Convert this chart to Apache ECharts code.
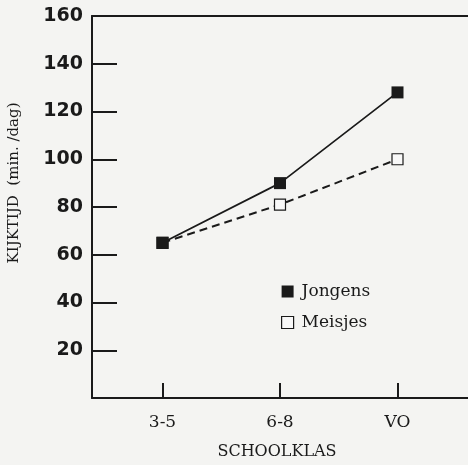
<!DOCTYPE html>
<html>
<head>
<meta charset="utf-8">
<script src="https://cdn.jsdelivr.net/npm/echarts@6/dist/echarts.min.js"></script>
<style>
html,body{margin:0;padding:0;background:#f4f4f2;}
#c{width:468px;height:465px;}
</style>
</head>
<body>
<div id="c"></div>
<script>
const categories = ['3-5', '6-8', 'VO'];
const jongens = [65, 90, 128];
const meisjes = [65, 81, 100];
const yTicks = [20, 40, 60, 80, 100, 120, 140, 160];

const chart = echarts.init(document.getElementById('c'), null, {renderer: 'canvas'});
const ink = '#1a1a1a';
const pos = categories.map((_, i) => i + 1);

chart.setOption({
  backgroundColor: '#f4f4f2',
  animation: false,
  grid: {left: 92, top: 16, right: 0, bottom: 67},
  xAxis: [{
    type: 'value', min: 0.4, max: 3.6, position: 'bottom',
    axisLine: {show: true, lineStyle: {color: ink, width: 2}},
    axisTick: {show: true, inside: true, length: 15, customValues: pos, lineStyle: {color: ink, width: 2}},
    axisLabel: {show: true, customValues: pos, margin: 16,
      formatter: v => categories[Math.round(v) - 1] || '',
      fontFamily: 'DejaVu Serif', fontSize: 17, color: ink},
    splitLine: {show: false}
  }, {
    type: 'value', min: 0.4, max: 3.6, position: 'top',
    axisLine: {show: true, lineStyle: {color: ink, width: 2}},
    axisTick: {show: false}, axisLabel: {show: false}, splitLine: {show: false}
  }],
  yAxis: {
    type: 'value', min: 0, max: 160, interval: 20,
    axisLine: {show: true, lineStyle: {color: ink, width: 2}},
    axisTick: {show: true, inside: true, length: 25, customValues: yTicks.slice(0, -1), lineStyle: {color: ink, width: 2}},
    axisLabel: {customValues: yTicks, margin: 9, fontFamily: 'DejaVu Sans', fontWeight: 'bold', fontSize: 19, color: ink},
    splitLine: {show: false}
  },
  legend: {
    orient: 'vertical', left: 276, top: 278, itemGap: 14,
    itemWidth: 12, itemHeight: 12,
    data: [
      {name: 'Jongens', icon: 'rect', itemStyle: {color: ink, borderWidth: 0}},
      {name: 'Meisjes', icon: 'rect', itemStyle: {color: '#f8f8f8', borderColor: ink, borderWidth: 1.2}}
    ],
    textStyle: {fontFamily: 'DejaVu Serif', fontSize: 17, color: ink, padding: [0, 0, 0, 3]}
  },
  graphic: [
    {type: 'text', x: 14, y: 183, rotation: Math.PI / 2,
      style: {text: 'KIJKTIJD  (min. /dag)', fontFamily: 'DejaVu Serif', fontSize: 15, fill: ink, align: 'center', verticalAlign: 'middle'}},
    {type: 'text', x: 277, y: 452,
      style: {text: 'SCHOOLKLAS', fontFamily: 'DejaVu Serif', fontSize: 16, fill: ink, align: 'center', verticalAlign: 'middle'}}
  ],
  series: [
    {name: 'Meisjes', type: 'line', z: 2,
      data: meisjes.map((v, i) => [pos[i], v]),
      symbol: 'rect', symbolSize: 11,
      lineStyle: {color: ink, width: 2, type: [8, 5]},
      itemStyle: {color: '#f8f8f8', borderColor: ink, borderWidth: 1.2}},
    {name: 'Jongens', type: 'line', z: 3,
      data: jongens.map((v, i) => [pos[i], v]),
      symbol: 'rect', symbolSize: 12,
      lineStyle: {color: ink, width: 1.7},
      itemStyle: {color: ink, borderWidth: 0}}
  ]
});
</script>
</body>
</html>
